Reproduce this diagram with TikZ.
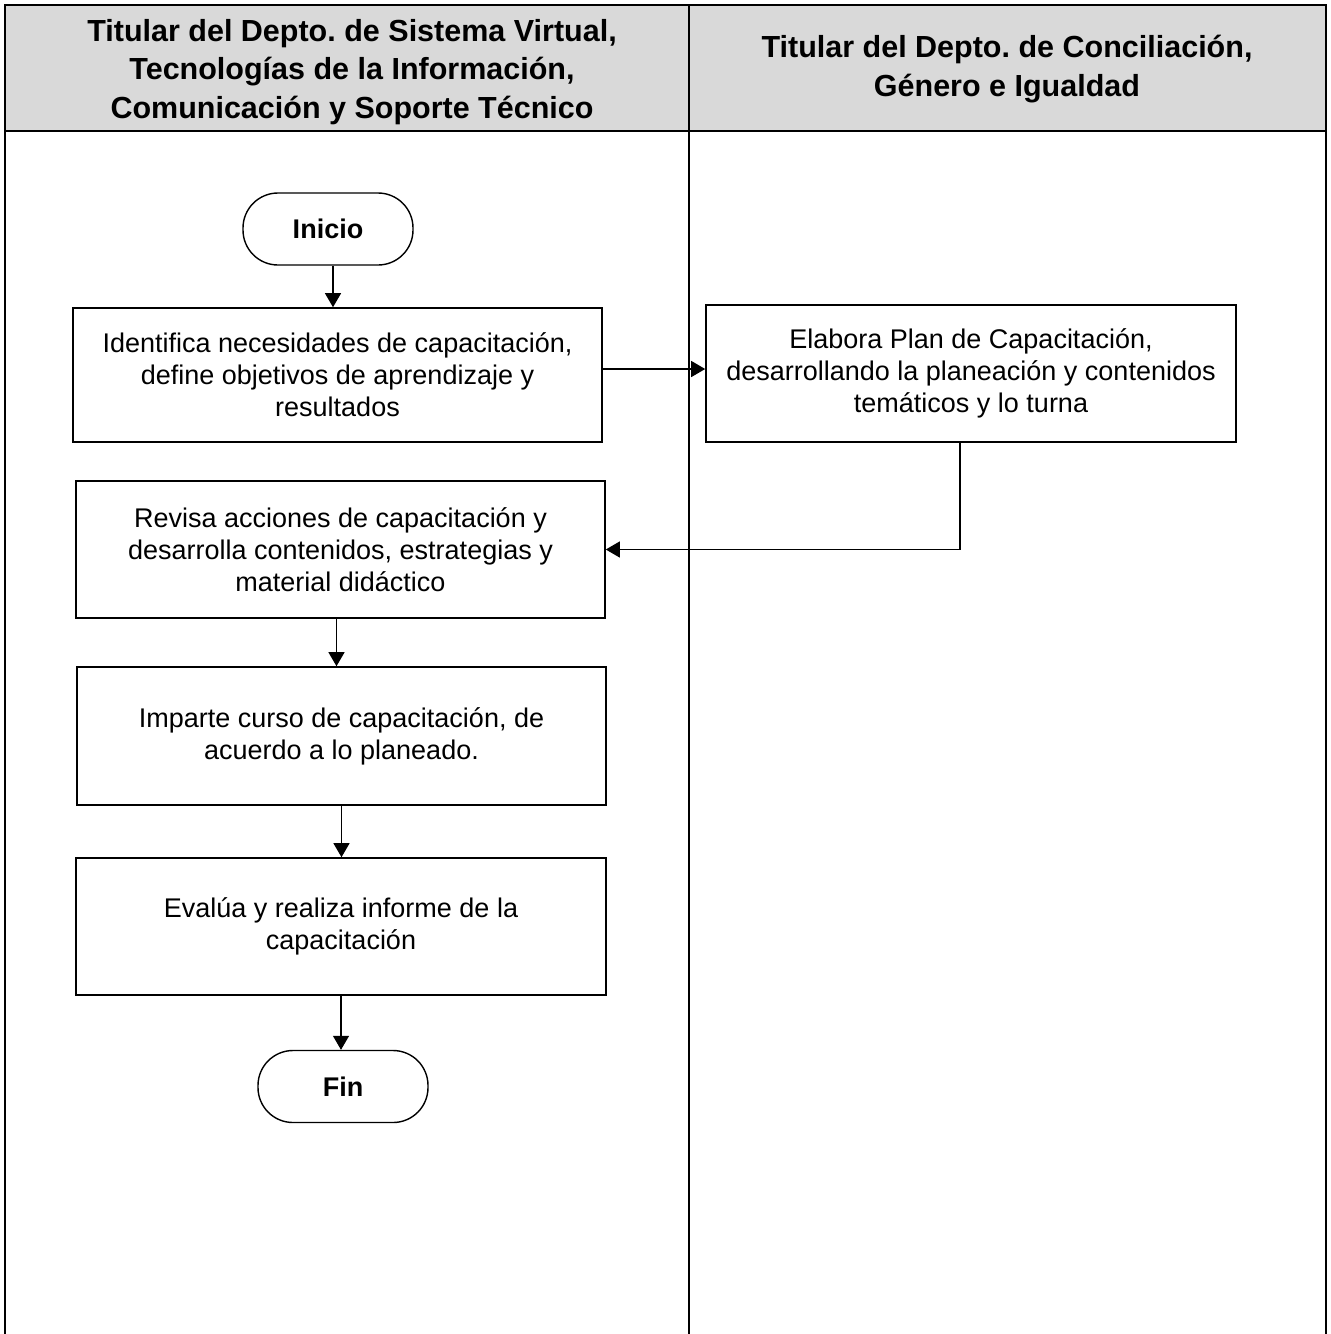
\documentclass[tikz,border=0pt]{standalone}
\usepackage{fontspec}
\setmainfont{Liberation Sans}
\usetikzlibrary{arrows.meta,calc,positioning}
\definecolor{headgray}{RGB}{217,217,217}
\frenchspacing

\begin{document}
\begin{tikzpicture}[x=1pt,y=-1pt,>={Triangle[length=14pt,width=16pt]}]
\tikzstyle{proc}=[draw,line width=1.6pt,align=center,minimum width=529pt,minimum height=136pt,font=\fontsize{27}{32}\selectfont]
\tikzstyle{term}=[draw,line width=1.4pt,rounded corners=35pt,minimum width=170pt,minimum height=72pt,font=\bfseries\fontsize{27}{32}\selectfont]
\tikzstyle{head}=[align=center,font=\bfseries\fontsize{30.5}{38.5}\selectfont]
\tikzstyle{flow}=[->,line width=1.2pt]
\useasboundingbox (0,0) rectangle (1331,1334);
% encabezado y carriles
\fill[headgray] (5,5) rectangle (1326,131);
\draw[line width=2pt] (5,1334) -- (5,5) -- (1326,5) -- (1326,1334);
\draw[line width=2pt] (5,131) -- (1326,131);
\draw[line width=2pt] (689,5) -- (689,1334);
\node[head] (h1) at (352,72) {Titular del Depto. de Sistema Virtual,\\ Tecnologías de la Información,\\ Comunicación y Soporte Técnico};
\node[head] (h2) at (1007,69) {Titular del Depto. de Conciliación,\\ Género e Igualdad};
% actividades
\node[term] (inicio) at (328,229) {Inicio};
\node[proc,minimum height=134pt] (ident) at (337.5,375) {Identifica necesidades de capacitación,\\ define objetivos de aprendizaje y\\ resultados};
\node[proc,minimum width=530pt,minimum height=137pt] (plan) at (971,373.5) {Elabora Plan de Capacitación,\\ desarrollando la planeación y contenidos\\ temáticos y lo turna};
\node[proc,minimum height=137pt] (revisa) at (340.5,549.5) {Revisa acciones de capacitación y\\ desarrolla contenidos, estrategias y\\ material didáctico};
\node[proc,minimum height=138pt] (imparte) at (341.5,736) {Imparte curso de capacitación, de\\ acuerdo a lo planeado.};
\node[proc,minimum width=530pt,minimum height=137pt] (evalua) at (341,926.5) {Evalúa y realiza informe de la\\ capacitación};
\node[term] (fin) at (343,1086.5) {Fin};
% conectores
\draw[flow] ([xshift=5pt]inicio.south) -- ([xshift=5pt]inicio.south |- ident.north);
\draw[flow] ([yshift=6pt]ident.east) -- ([yshift=6pt]ident.east -| plan.west);
\draw[flow] ([xshift=-11pt]plan.south) |- (revisa.east);
\draw[flow] ([xshift=-4pt]revisa.south) -- ([xshift=-4pt]revisa.south |- imparte.north);
\draw[flow] (imparte.south) -- (imparte.south |- evalua.north);
\draw[flow] (evalua.south) -- (evalua.south |- fin.north);
\end{tikzpicture}
\end{document}
